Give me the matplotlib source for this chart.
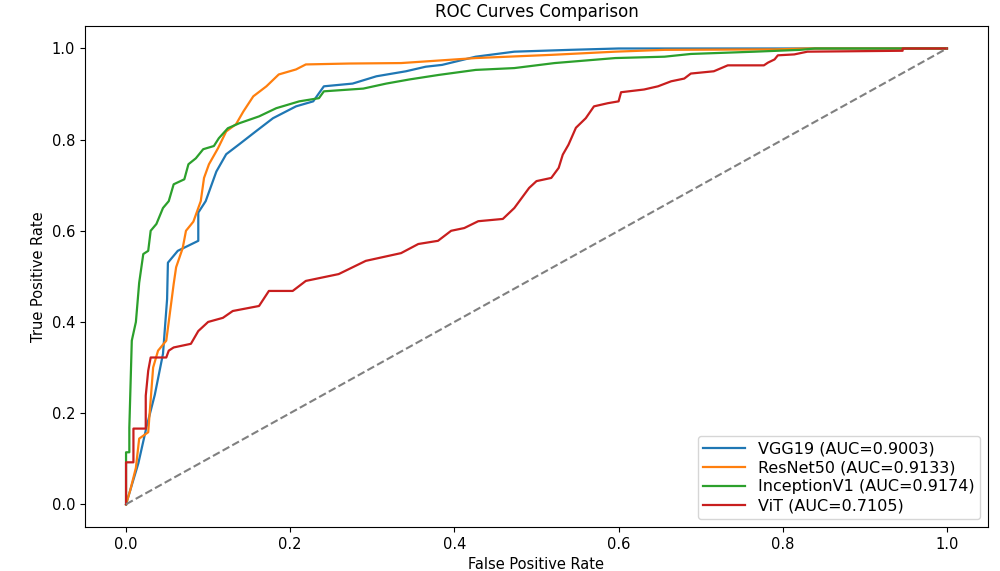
import matplotlib
matplotlib.use("Agg")
import matplotlib.pyplot as plt

# ─── DATA ─────────────────────────────────────────────────────────────────────
vgg_fpr = [0, 0.005, 0.015, 0.025, 0.035, 0.045, 0.05, 0.051, 0.063, 0.088, 0.088,
           0.097, 0.11, 0.122, 0.138, 0.158, 0.179, 0.207, 0.228, 0.241, 0.276,
           0.305, 0.341, 0.365, 0.385, 0.426, 0.473, 0.541, 0.60, 1.0]
vgg_tpr = [0, 0.03, 0.09, 0.17, 0.24, 0.33, 0.45, 0.53, 0.556, 0.578, 0.64,
           0.665, 0.73, 0.768, 0.79, 0.818, 0.847, 0.873, 0.884, 0.917, 0.923,
           0.939, 0.95, 0.96, 0.964, 0.982, 0.993, 0.997, 1.0, 1.0]

resnet_fpr = [0, 0.005, 0.012, 0.016, 0.027, 0.033, 0.039, 0.049, 0.052, 0.058,
              0.061, 0.069, 0.073, 0.082, 0.091, 0.095, 0.101, 0.112, 0.122, 0.134,
              0.143, 0.155, 0.171, 0.186, 0.207, 0.219, 0.272, 0.335, 0.426, 0.518,
              0.596, 0.656, 0.79, 0.83, 1.0]
resnet_tpr = [0, 0.03, 0.08, 0.144, 0.158, 0.30, 0.337, 0.359, 0.40, 0.483,
              0.52, 0.562, 0.60, 0.62, 0.665, 0.716, 0.746, 0.781, 0.818, 0.834,
              0.862, 0.895, 0.917, 0.943, 0.954, 0.965, 0.967, 0.968, 0.979, 0.986,
              0.993, 0.997, 0.998, 1.0, 1.0]

incep_fpr = [0, 0, 0.004, 0.004, 0.007, 0.012, 0.016, 0.021, 0.027, 0.030,
             0.037, 0.045, 0.052, 0.058, 0.071, 0.076, 0.085, 0.094, 0.107, 0.113,
             0.124, 0.138, 0.162, 0.183, 0.211, 0.235, 0.241, 0.289, 0.317, 0.345,
             0.381, 0.426, 0.473, 0.522, 0.596, 0.656, 0.688, 0.766, 0.821, 0.839, 1.0]
incep_tpr = [0, 0.114, 0.114, 0.168, 0.359, 0.40, 0.486, 0.549, 0.556, 0.60,
             0.615, 0.65, 0.665, 0.702, 0.713, 0.746, 0.759, 0.779, 0.786, 0.803,
             0.825, 0.836, 0.851, 0.869, 0.884, 0.891, 0.906, 0.912, 0.923, 0.932,
             0.942, 0.953, 0.957, 0.968, 0.979, 0.982, 0.988, 0.993, 0.997, 1.0, 1.0]

vit_fpr = [0, 0, 0.009, 0.009, 0.024, 0.024, 0.027, 0.030, 0.049, 0.052,
           0.058, 0.079, 0.088, 0.10, 0.118, 0.13, 0.162, 0.174, 0.203, 0.219,
           0.259, 0.292, 0.335, 0.356, 0.38, 0.396, 0.412, 0.429, 0.459, 0.473,
           0.491, 0.50, 0.518, 0.527, 0.532, 0.539, 0.548, 0.56, 0.57, 0.587,
           0.60, 0.603, 0.631, 0.648, 0.664, 0.68, 0.688, 0.716, 0.733, 0.777,
           0.782, 0.79, 0.794, 0.814, 0.83, 0.946, 0.946, 1.0]
vit_tpr = [0, 0.092, 0.092, 0.166, 0.166, 0.238, 0.293, 0.322, 0.322, 0.337,
           0.344, 0.352, 0.38, 0.40, 0.409, 0.424, 0.435, 0.468, 0.468, 0.49,
           0.505, 0.534, 0.551, 0.571, 0.578, 0.60, 0.606, 0.621, 0.626, 0.65,
           0.694, 0.709, 0.716, 0.738, 0.767, 0.789, 0.826, 0.847, 0.873, 0.88,
           0.884, 0.904, 0.91, 0.917, 0.928, 0.934, 0.945, 0.95, 0.963, 0.963,
           0.969, 0.976, 0.985, 0.987, 0.993, 0.995, 1.0, 1.0]

models = ["VGG19", "ResNet50", "InceptionV1", "ViT"]
aucs = [0.9003, 0.9133, 0.9174, 0.7105]
curves = [(vgg_fpr, vgg_tpr), (resnet_fpr, resnet_tpr),
          (incep_fpr, incep_tpr), (vit_fpr, vit_tpr)]
colors = ["tab:blue", "tab:orange", "tab:green", "#c81e1e"]
# ──────────────────────────────────────────────────────────────────────────────

fig, ax = plt.subplots(figsize=(10, 5.71), dpi=100)
fig.subplots_adjust(left=0.085, right=0.988, top=0.955, bottom=0.077)

for name, auc, (fpr, tpr), c in zip(models, aucs, curves, colors):
    ax.plot(fpr, tpr, color=c, linewidth=1.6, label=f"{name} (AUC={auc:.4f})")

ax.plot([0, 1], [0, 1], linestyle="--", color="gray", linewidth=1.5)

ax.set_title("ROC Curves Comparison", fontsize=12)
ax.set_xlabel("False Positive Rate", fontsize=10.5)
ax.set_ylabel("True Positive Rate", fontsize=10.5)
ax.tick_params(labelsize=10.5)
ax.legend(loc="lower right", fontsize=11.5, labelspacing=0.25, borderpad=0.35,
          handlelength=2.6)

plt.savefig("out.png", dpi=100)
